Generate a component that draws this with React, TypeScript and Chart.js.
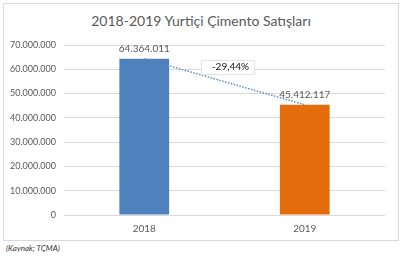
import React, { useEffect, useRef } from "react";
import { Chart, registerables } from "chart.js";
Chart.register(...registerables);

const categories = ["2018", "2019"];
const sales = [64364011, 45412117];
const salesLabels = ["64.364.011", "45.412.117"];
const changeLabel = "-29,44%";
const barColors = ["#4F81BD", "#E46C0A"];
const yMax = 70000000;
const yStep = 10000000;

const FONT = "Lato, 'Open Sans', sans-serif";
const TEXT = "#595959";

function fmt(v: number): string {
  return Math.round(v).toString().replace(/\B(?=(\d{3})+(?!\d))/g, ".");
}

export default function App() {
  const ref = useRef<HTMLCanvasElement | null>(null);
  useEffect(() => {
    if (!ref.current) return;
    const labelPlugin = {
      id: "labels",
      afterDatasetsDraw(chart: any) {
        const ctx = chart.ctx;
        const meta = chart.getDatasetMeta(0);
        ctx.save();
        ctx.font = "10px " + FONT;
        ctx.fillStyle = TEXT;
        ctx.textAlign = "center";
        ctx.textBaseline = "middle";
        meta.data.forEach((el: any, i: number) => {
          ctx.fillText(salesLabels[i], el.x, el.y - 10);
        });
        // change label box
        const a = meta.data[0];
        const b = meta.data[1];
        const mx = (a.x + b.x) / 2 + 3;
        const my = (a.y + b.y) / 2 - 15;
        const w = 53, h = 14;
        ctx.fillStyle = "#ffffff";
        ctx.fillRect(mx - w / 2, my - h / 2, w, h);
        ctx.strokeStyle = "#E3E3E3";
        ctx.lineWidth = 1;
        ctx.strokeRect(Math.round(mx - w / 2) + 0.5, Math.round(my - h / 2) + 0.5, w, h);
        ctx.fillStyle = "#111111";
        ctx.font = "10px " + FONT;
        ctx.fillText(changeLabel, mx + 3, my + 0.5);
        ctx.restore();
      },
    };
    const chart = new Chart(ref.current, {
      type: "bar",
      data: {
        labels: categories,
        datasets: [
          {
            type: "bar",
            data: sales,
            backgroundColor: barColors,
            borderColor: barColors.map(() => "rgba(255,255,255,0.35)"),
            borderWidth: 0,
            categoryPercentage: 1,
            barPercentage: 0.31,
            order: 0,
          } as any,
          {
            type: "line",
            data: sales,
            borderColor: "#5B8FD0",
            borderWidth: 1.5,
            borderDash: [1.5, 1.5],
            pointRadius: 0,
            fill: false,
            order: 1,
          } as any,
        ],
      },
      options: {
        animation: false,
        responsive: false,
        events: [],
        layout: { padding: { left: 0, right: 13, top: 41, bottom: 0 } },
        plugins: { legend: { display: false }, tooltip: { enabled: false }, title: { display: false } },
        scales: {
          x: {
            grid: { display: false, drawTicks: false },
            border: { display: false },
            ticks: { color: TEXT, font: { family: FONT, size: 10 }, padding: 8 },
            afterFit(axis: any) {
              axis.height = 25;
            },
          },
          y: {
            min: 0,
            max: yMax,
            grid: { color: "#D9D9D9", drawTicks: false },
            border: { display: false },
            ticks: {
              stepSize: yStep,
              color: TEXT,
              font: { family: FONT, size: 9 },
              padding: 8,
              callback: (v: any) => fmt(Number(v)),
            },
            afterFit(axis: any) {
              axis.width = 60;
            },
          },
        },
      },
      plugins: [labelPlugin],
    } as any);
    return () => chart.destroy();
  }, []);
  return (
    <div style={{ position: "fixed", left: 0, top: 0, width: 402, height: 256, background: "#fff" }}>
      <div
        style={{
          position: "absolute",
          left: 3,
          top: 3,
          width: 394,
          height: 236,
          border: "1px solid #D9D9D9",
          background: "#fff",
        }}
      >
        <div
          style={{
            position: "absolute",
            left: 0,
            top: 9,
            width: "100%",
            textAlign: "center",
            fontFamily: FONT,
            fontSize: 14,
            color: TEXT,
            lineHeight: "16px",
          }}
        >
          2018-2019 Yurtiçi Çimento Satışları
        </div>
        <canvas ref={ref} width={394} height={236} style={{ position: "absolute", left: 0, top: 0 }} />
      </div>
      <div
        style={{
          position: "absolute",
          left: 6,
          top: 243,
          fontFamily: FONT,
          fontStyle: "italic",
          fontSize: 8,
          color: "#333",
        }}
      >
        (Kaynak; TÇMA)
      </div>
    </div>
  );
}
